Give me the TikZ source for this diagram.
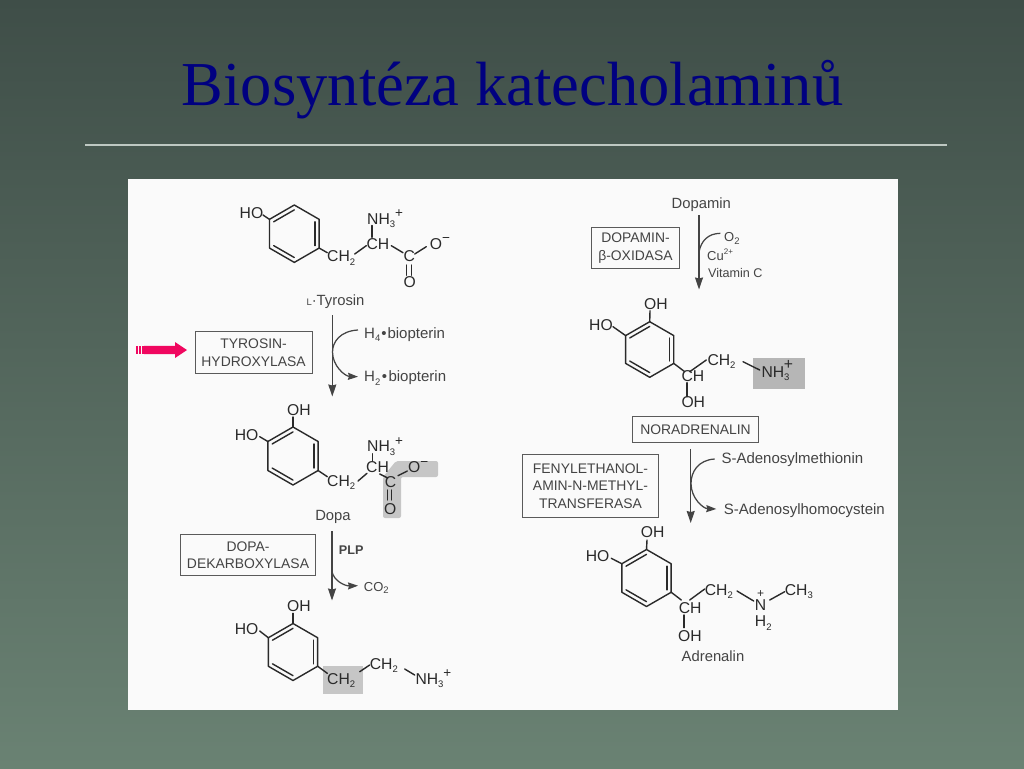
\documentclass[tikz,border=0pt]{standalone}
\usepackage{fontspec}
\setmainfont{Liberation Sans}
\newfontfamily\titlefont{Liberation Serif}
\usetikzlibrary{arrows.meta,calc}
\definecolor{inkc}{HTML}{2A2A2A}
\definecolor{namec}{HTML}{444444}
\definecolor{boxc}{HTML}{5A5A5A}
\definecolor{patchc}{HTML}{C6C6C6}
\definecolor{pinkc}{HTML}{F0075F}
\definecolor{bgtop}{RGB}{63,78,72}
\definecolor{bgbot}{RGB}{106,130,115}
\definecolor{titlec}{RGB}{0,0,128}
\definecolor{rulec}{RGB}{190,200,194}
\newcommand{\sbx}[1]{\raisebox{-0.22em}{\fontsize{9.5}{9.5}\selectfont #1}}
\newcommand{\spx}[1]{\raisebox{0.4em}{\fontsize{13.5}{13.5}\selectfont #1}}
\tikzset{
  lab/.style={anchor=base west,inner xsep=0pt,inner ysep=1pt,text=inkc,font=\fontsize{15.7}{18}\selectfont},
  molname/.style={anchor=base,inner sep=1pt,text=namec,font=\fontsize{14.8}{18}\selectfont},
  smalllab/.style={anchor=base west,inner xsep=0pt,inner ysep=1pt,text=namec,font=\fontsize{13}{15}\selectfont},
  sidelab/.style={anchor=base west,inner xsep=0pt,inner ysep=1pt,text=namec,font=\fontsize{15}{18}\selectfont},
  enz/.style={draw=boxc,line width=0.9pt,inner sep=0pt,align=center,text=namec,font=\fontsize{13.9}{17.5}\selectfont},
  bond/.style={draw=inkc,line width=1.4pt,line cap=round},
  flow/.style={draw=namec,line width=1.25pt},
  tipv/.style={-{Stealth[length=12pt,width=8pt,inset=1pt]}},
  tiph/.style={-{Stealth[length=10pt,width=7pt,inset=1pt]}}
}
% bond between two labels, each end given as an offset from the label's base point
\newcommand{\bd}[4]{\draw[bond] ([shift={(#2)}]#1.base west)--([shift={(#4)}]#3.base west);}
% bond from a ring vertex to a label
\newcommand{\rb}[3]{\draw[bond] (#1)--([shift={(#3)}]#2.base west);}
% ring: name, cx, cy, r
\newcommand{\ringat}[4]{%
  \coordinate (#1c) at (#2,#3);
  \coordinate (#1T) at (#2,#3-#4);
  \coordinate (#1UR) at (#2+0.866*#4,#3-0.5*#4);
  \coordinate (#1LR) at (#2+0.866*#4,#3+0.5*#4);
  \coordinate (#1B) at (#2,#3+#4);
  \coordinate (#1LL) at (#2-0.866*#4,#3+0.5*#4);
  \coordinate (#1UL) at (#2-0.866*#4,#3-0.5*#4);
  \draw[bond,line join=round] (#1T)--(#1UR)--(#1LR)--(#1B)--(#1LL)--(#1UL)--cycle;
  \draw[bond] ($(#1UL)!0.17!(#1c)$)--($(#1T)!0.17!(#1c)$);
  \draw[bond] ($(#1UR)!0.17!(#1c)$)--($(#1LR)!0.17!(#1c)$);
  \draw[bond] ($(#1LL)!0.17!(#1c)$)--($(#1B)!0.17!(#1c)$);
}
\begin{document}
\begin{tikzpicture}[x=1pt,y=-1pt]
\path[use as bounding box] (0,0) rectangle (1024,768);
\shade[top color=bgtop,bottom color=bgbot] (0,0) rectangle (1024,768);
\node[anchor=base,inner sep=0pt,text=titlec,font=\titlefont\fontsize{62.5}{70}\selectfont] (title) at (512.5,105) {Biosyntéza katecholaminů};
\coordinate (ruleL) at (85,145);
\coordinate (ruleR) at (947,145);
\draw[draw=rulec,line width=1.2pt] (ruleL)--(ruleR);
\fill[white!98!black] (128,179) rectangle (898,710);
% highlight patches
\fill[patchc,rounded corners=2pt] (396,461)--(438,461)--(438,477)--(401,477)--(401,518)--(383,518)--(383,477)--cycle;
\fill[patchc] (323,666) rectangle (362.5,693.5);
\fill[patchc!92!black] (752.5,357.5) rectangle (805,389);

% pink arrow
\fill[pinkc] (144,345.8)--(175,345.8)--(175,342)--(187,350)--(175,358)--(175,354.2)--(144,354.2)--cycle;
\foreach \xx in {136,139,142}{\fill[pinkc] (\xx,345.8) rectangle (\xx+1.8,354.2);}

% ---- Tyrosin
\ringat{t}{294.3}{233.7}{28.7}
\node[lab] (tHO) at (239.5,218) {HO};
\node[lab] (tNH) at (367,224) {NH\sbx{3}\spx{+}};
\node[lab] (tCH) at (366.3,249.3) {CH};
\node[lab] (tCH2) at (327,261.7) {CH\sbx{2}};
\node[lab] (tC) at (403.3,261) {C};
\node[lab] (tOm) at (429.7,249) {O\spx{−}};
\node[lab] (tO) at (403.3,287.3) {O};
\rb{tUL}{tHO}{23.5,-3}
\rb{tLR}{tCH2}{0.3,-9}
\bd{tCH2}{27.7,-7.7}{tCH}{0,-3.6}
\bd{tNH}{5,1.5}{tCH}{5.7,-12}
\bd{tCH}{25,-3.6}{tC}{-0.3,-8.3}
\bd{tC}{11.4,-7}{tOm}{-3.4,-2.3}
\bd{tC}{3.4,4}{tO}{3.4,-12}
\bd{tC}{8,4}{tO}{8,-12}
\node[molname,anchor=base west,inner xsep=0pt] (tName) at (306.3,305.3) {{\fontsize{9.5}{9}\selectfont L}·Tyrosin};

% enzyme 1
\node[enz,minimum width=116.7pt,minimum height=41.6pt] (e1) at (253.6,352.5) {TYROSIN-\\HYDROXYLASA};
\coordinate (a1s) at (332.3,315);
\coordinate (a1e) at (332.3,396.5);
\draw[flow,tipv] (a1s)--(a1e);
\node[sidelab] (h4) at (364,338.3) {H\sbx{4}\kern1pt•\kern1pt biopterin};
\node[sidelab] (h2) at (364,381.7) {H\sbx{2}\kern1.5pt•\kern1.5pt biopterin};
\draw[flow,tiph] ([shift={(-6,-8.3)}]h4.base west)..controls (340,331) and (332.5,342) ..(332.5,352)..controls (332.5,366) and (345,376.2)..([shift={(-6,-5)}]h2.base west);

% ---- Dopa
\ringat{d}{293}{456}{29}
\node[lab] (dOH) at (287,415) {OH};
\node[lab] (dHO) at (234.7,440) {HO};
\node[lab] (dNH) at (367,451.7) {NH\sbx{3}\spx{+}};
\node[lab] (dCH) at (366,472.3) {CH};
\node[lab] (dCH2) at (327,486) {CH\sbx{2}};
\node[lab] (dC) at (384.7,487.3) {C};
\node[lab] (dOm) at (408,472.7) {O\spx{−}};
\node[lab] (dO) at (384,514) {O};
\rb{dT}{dOH}{6,2}
\rb{dUL}{dHO}{25,-3.3}
\rb{dLR}{dCH2}{0.3,-9.3}
\bd{dCH2}{31,-5}{dCH}{1,1}
\bd{dNH}{5.3,2}{dCH}{6.3,-11.3}
\bd{dCH}{13.7,1.7}{dC}{3,-9.3}
\bd{dC}{13.3,-11.6}{dOm}{-0.7,-1.7}
\bd{dC}{2.6,2.7}{dO}{3.3,-14}
\bd{dC}{6.6,2.7}{dO}{7.3,-14}
\node[molname] (dName) at (333,520.7) {Dopa};

% enzyme 2
\node[enz,minimum width=134.6pt,minimum height=41.4pt] (e2) at (248,555) {DOPA-\\DEKARBOXYLASA};
\coordinate (a2e) at (332,600.5);
\draw[flow,tipv] ([shift={(-1,10.3)}]dName.base)--(a2e);
\node[smalllab,font=\bfseries\fontsize{12.6}{15}\selectfont] (plp) at (338.7,554.3) {PLP};
\node[smalllab] (co2) at (363.7,591) {CO\sbx{2}};
\coordinate (a2b) at (332,571.7);
\draw[flow,tiph] (a2b)..controls (334,581) and (345,586) ..([shift={(-5.7,-5.3)}]co2.base west);

% ---- Dopamin structure
\ringat{p}{293}{652}{28.5}
\node[lab] (pOH) at (287,611.7) {OH};
\node[lab] (pHO) at (234.7,634.3) {HO};
\node[lab] (pCH2a) at (327,684.3) {CH\sbx{2}};
\node[lab] (pCH2b) at (369.7,669) {CH\sbx{2}};
\node[lab] (pNH) at (415.3,684) {NH\sbx{3}\spx{+}};
\rb{pT}{pOH}{6,1.6}
\rb{pUL}{pHO}{25,-3.3}
\rb{pLR}{pCH2a}{0.3,-11}
\bd{pCH2a}{32.7,-12.6}{pCH2b}{0,-4}
\bd{pCH2b}{35,0}{pNH}{-0.6,-9}

% ---- right column: Dopamin
\node[molname] (mName) at (701.3,208.3) {Dopamin};
\coordinate (a3e) at (699,289.5);
\draw[flow,tipv] ([shift={(-2.3,6.7)}]mName.base)--(a3e);
\node[enz,minimum width=88.4pt,minimum height=41.7pt] (e3) at (635.5,248) {DOPAMIN-\\β-OXIDASA};
\node[smalllab] (o2) at (724,241.7) {O\sbx{2}};
\node[smalllab] (cu) at (707,260) {Cu\raisebox{0.42em}{\fontsize{8}{8}\selectfont 2+}};
\node[smalllab,font=\fontsize{12.6}{15}\selectfont] (vitc) at (708,277.3) {Vitamin C};
\coordinate (a3b) at (699,252);
\draw[flow] ([shift={(-3.7,-8.4)}]o2.base west)..controls (708,233.5) and (701,241) ..(a3b);

% ---- Noradrenalin
\ringat{n}{649.7}{349.5}{27.8}
\node[lab] (nOH) at (644,309.3) {OH};
\node[lab] (nHO) at (589,330.7) {HO};
\node[lab] (nCH2) at (707.3,365) {CH\sbx{2}};
\node[lab] (nCH) at (681.3,381.7) {CH};
\node[lab] (nOHb) at (681.3,407.7) {OH};
\node[lab] (nNH) at (761.3,377.3) {NH\sbx{3}\kern-0.35em\raisebox{0.5em}{+}};
\rb{nT}{nOH}{6,1.4}
\rb{nUL}{nHO}{24,-4}
\rb{nLR}{nCH}{3.4,-10}
\bd{nCH}{8.4,-10}{nCH2}{-1,-5}
\bd{nCH}{5.7,1}{nOHb}{5.7,-11}
\bd{nCH2}{35.7,-3.3}{nNH}{-1.6,-7.3}
\node[enz,minimum width=126.4pt,minimum height=25.6pt] (e4) at (695.5,429.5) {NORADRENALIN};

% enzyme 4 arrow
\coordinate (a4e) at (690.7,523);
\draw[flow,tipv] ([shift={(-4.8,6)}]e4.south)--(a4e);
\node[enz,minimum width=136.4pt,minimum height=63.4pt] (e5) at (590.5,486) {FENYLETHANOL-\\AMIN-N-METHYL-\\TRANSFERASA};
\node[sidelab] (sam) at (721.3,463.3) {S-Adenosylmethionin};
\node[sidelab] (sah) at (723.7,514) {S-Adenosylhomocystein};
\draw[flow,tiph] ([shift={(-6.6,-4.3)}]sam.base west)..controls (698,460) and (691,472) ..(691,483.5)..controls (691,498) and (703,508.5)..([shift={(-7.4,-5)}]sah.base west);

% ---- Adrenalin
\ringat{a}{646.5}{578}{28.5}
\node[lab] (aOH) at (640.7,537.7) {OH};
\node[lab] (aHO) at (585.7,561.7) {HO};
\node[lab] (aCH2) at (704.7,595) {CH\sbx{2}};
\node[lab] (aCH) at (678.7,613.3) {CH};
\node[lab] (aOHb) at (678,641.7) {OH};
\node[lab] (aN) at (754.7,610.7) {N\llap{\raisebox{0.82em}{\fontsize{12}{12}\selectfont +\kern2.1pt}}};
\node[lab] (aH2) at (754.7,626.7) {H\sbx{2}};
\node[lab] (aCH3) at (784.7,595) {CH\sbx{3}};
\rb{aT}{aOH}{6.3,2.3}
\rb{aUL}{aHO}{25.6,-3.4}
\rb{aLR}{aCH}{2.6,-13.3}
\bd{aCH}{11,-13.3}{aCH2}{0,-6}
\bd{aCH}{5.3,1.7}{aOHb}{6,-14}
\bd{aCH2}{32.3,-4}{aN}{-1,-9.7}
\bd{aN}{15,-10.7}{aCH3}{0,-3.3}
\node[molname] (aName) at (713,661.7) {Adrenalin};
\end{tikzpicture}
\end{document}
